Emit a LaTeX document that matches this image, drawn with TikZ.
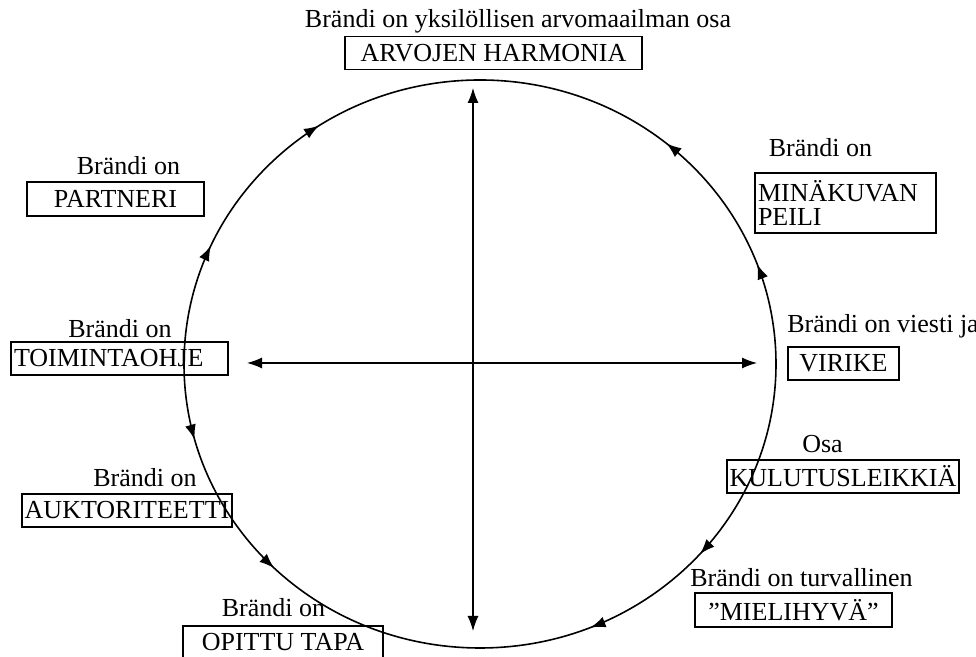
\documentclass[tikz,border=0pt]{standalone}
\usepackage{fontspec}
\setmainfont{Liberation Serif}
\usetikzlibrary{arrows.meta,positioning,calc,decorations.markings}

\begin{document}
\begin{tikzpicture}[
  x=0.5pt, y=0.5pt,
  font=\fontsize{13}{15}\selectfont,
  >={Latex[length=7.5pt,width=5.5pt]},
  frame/.style={draw, line width=0.9pt, inner sep=1.5pt, minimum height=16.5pt},
  caption/.style={anchor=base, inner sep=0pt},
  axis/.style={<->, line width=0.6pt},
  ring/.style={line width=0.8pt, postaction={decorate}, decoration={markings,
    mark=at position 0.056 with {\arrow{>}},
    mark=at position 0.140 with {\arrow{>}},
    mark=at position 0.343 with {\arrowreversed{>}},
    mark=at position 0.433 with {\arrowreversed{>}},
    mark=at position 0.542 with {\arrow{>}},
    mark=at position 0.626 with {\arrow{>}},
    mark=at position 0.812 with {\arrowreversed{>}},
    mark=at position 0.885 with {\arrowreversed{>}}}}
]
\useasboundingbox (0,0) rectangle (976,657);

% the cycle and the two axes
\coordinate (c) at (480,293);
\draw[ring] (c) ellipse [x radius=148pt, y radius=142pt];

\coordinate (west) at (247,294);
\coordinate (east) at (757,294);
\coordinate (north) at (473,569);
\coordinate (south) at (473,26);
\draw[axis] (west) -- (east);
\draw[axis] (north) -- (south);

% roles of the brand
\node[caption] (l-harmonia) at (518,629) {Brändi on yksilöllisen arvomaailman osa};
\node[frame, minimum width=148.5pt] (harmonia) at (493.5,604) {ARVOJEN HARMONIA};

\node[caption] (l-partneri) at (128.5,482) {Brändi on};
\node[frame, minimum width=88.5pt, minimum height=17pt] (partneri) at (115.5,458) {PARTNERI};

\node[caption] (l-peili) at (820.5,500) {Brändi on};
\node[frame, font=\fontsize{13}{12}\selectfont, text width=87.5pt, align=left, minimum height=30pt] (peili) at (845.5,454) {MINÄKUVAN\\PEILI};

\node[caption] (l-ohje) at (120,319) {Brändi on};
\node[frame, text width=105.5pt, align=left] (ohje) at (119.5,298.5) {TOIMINTAOHJE};

\node[caption, anchor=base west] (l-virike) at (787,324) {Brändi on viesti ja};
\node[frame, minimum width=55.5pt] (virike) at (843.5,293.5) {VIRIKE};

\node[caption] (l-auktoriteetti) at (145,170) {Brändi on};
\node[frame, minimum width=102pt] (auktoriteetti) at (127,146.5) {AUKTORITEETTI};

\node[caption] (l-tapa) at (273.5,40) {Brändi on};
\node[frame, minimum width=100pt] (tapa) at (283,14.5) {OPITTU TAPA};

\node[caption] (l-leikki) at (822.5,204) {Osa};
\node[frame, minimum width=112pt] (leikki) at (843,180.5) {KULUTUSLEIKKIÄ};

\node[caption] (l-mielihyva) at (801.5,70) {Brändi on turvallinen};
\node[frame, minimum width=98.5pt, minimum height=17pt] (mielihyva) at (793.5,47) {”MIELIHYVÄ”};

\end{tikzpicture}
\end{document}
